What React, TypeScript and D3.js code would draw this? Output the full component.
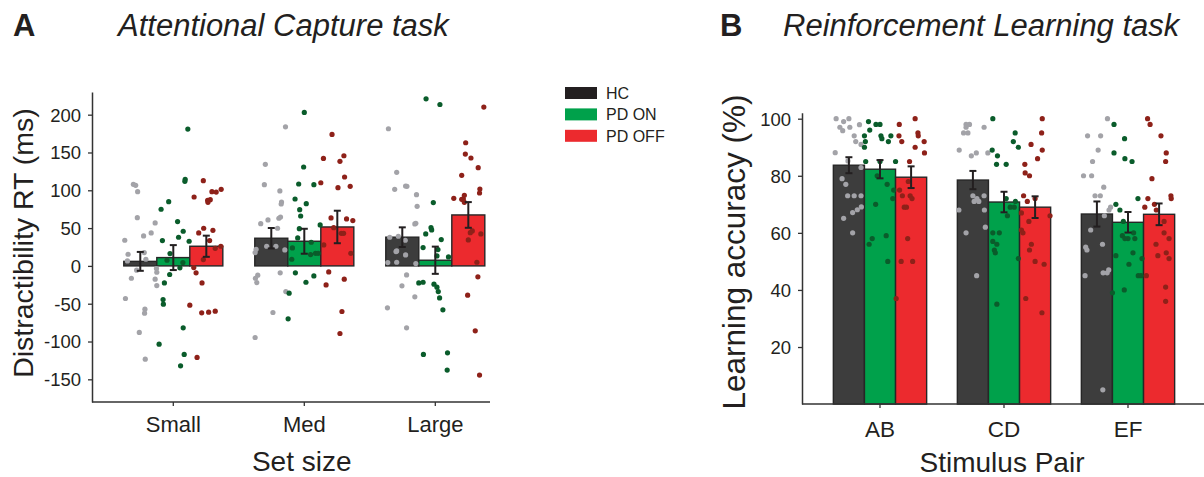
import { useRef, useEffect } from "react";
import * as d3 from "d3";

// [jitter across the bar (fraction of bar width), value]
type Dot = [number, number];

const series = ["HC", "PD ON", "PD OFF"];
const setSizes = ["Small", "Med", "Large"];
const stimulusPairs = ["AB", "CD", "EF"];

// Panel A: Attentional Capture task, distractibility RT (ms)
const acMeanHC = [6, 36.6, 38];
const acMeanON = [11, 32.6, 7.5];
const acMeanOFF = [26, 51.5, 67.4];
const acSemHC = [12.5, 13.5, 13];
const acSemON = [16.5, 16.5, 18];
const acSemOFF = [14, 21.5, 17];
const acTicks = [-150, -100, -50, 0, 50, 100, 150, 200];

const acDotsHC: Dot[][] = [
  [[-0.47, 33.9], [-0.37, 15.4], [-0.39, 6.6], [-0.21, 107.9], [-0.14, 106.6], [-0.08, 98.2], [-0.09, 63.8], [0.1, 39.6], [0.33, 43.6], [0.45, 56.8], [0.12, 17.6], [0.17, 8.8], [-0.11, -5.7], [-0.27, -16.3], [-0.45, -43.1], [0.14, -57.2], [0.13, -62.5], [-0.03, -88], [0.15, -123.3], [0.45, -17.6], [0.49, -3.5], [0.5, -8.4], [0.5, -26]],
  [[0.43, 184], [-0.18, 134.3], [-0.21, 107.4], [0.26, 99.1], [0.31, 84.5], [0.3, 81.9], [0.28, 64.7], [0.23, 63], [-0.1, 60.8], [-0.32, 55.9], [0.19, 49.8], [-0.14, 26], [0.14, 26], [0.41, 21.1], [-0.46, 22], [-0.49, 17.6], [0.27, -9.2], [-0.41, -12.3], [-0.48, -16.3], [-0.44, -22], [0.44, -33.9], [0.05, -61.6], [-0.49, -94.7]],
  [[-0.42, 181.4], [-0.17, 123.7], [-0.23, 101.3], [0.1, 105.7], [0.14, 105.2], [0.43, 94.2], [0.45, 78.8], [0.38, 55.5], [0.41, 56.4], [-0.38, 37.9], [-0.12, 39.2], [0.09, 33.9], [-0.17, 19.8], [-0.19, 18.9], [0.1, 14.5], [-0.44, 4.4], [-0.17, 4.8], [0.41, 3.1], [0.13, -11.9], [-0.01, -26.4], [0.38, -40.9], [-0.45, -55.5], [0.13, -81.9]],
];
const acDotsON: Dot[][] = [
  [[0.44, 181], [0.36, 114.5], [0.35, 111.8], [-0.14, 85], [-0.37, 74.9], [0.13, 58.6], [0.3, 45.8], [0.16, 37.9], [-0.33, 33.5], [0.48, 32.6], [-0.1, 16.3], [-0.19, 7.5], [0.29, 4.4], [0.2, -2.6], [-0.11, -11.4], [-0.27, -22.5], [-0.31, -44.5], [-0.3, -50.6], [0.3, -81.9], [-0.43, -103.5], [0.33, -117.1], [0.22, -132.1]],
  [[0, 203], [-0.02, 130.8], [-0.17, 108.3], [0.29, 107.4], [-0.28, 88.5], [0.06, 82.3], [-0.14, 74.4], [-0.11, 66], [-0.15, 49.3], [0.48, 54.2], [-0.2, 37], [0.21, 31.3], [-0.36, 23.8], [0.19, 15], [0.34, 16.7], [0.42, 16.7], [-0.38, 8.8], [-0.27, -9.2], [0.29, -13.2], [0.05, -21.6], [-0.46, -36.1], [-0.49, -70]],
  [[-0.28, 221], [0.14, 213.5], [-0.06, 83.7], [-0.29, 42.3], [-0.13, 50.6], [-0.11, 47.6], [0.18, 34.8], [-0.37, 24.2], [0.08, 21.6], [0.05, 13.2], [0.4, 11.9], [-0.5, -22.5], [-0.37, -21.6], [-0.04, -24.2], [0.05, -28.2], [0.09, -33.9], [0.13, -42.3], [0.23, -58.1], [-0.36, -117.1], [0.37, -114.9], [0.36, -137.8]],
];
const acDotsOFF: Dot[][] = [
  [[-0.09, 112.7], [-0.37, 91.1], [0.04, 86.7], [0.12, 87.6], [0.05, 84.1], [0.17, 98.2], [0.3, 97.7], [0.45, 101.3], [-0.08, 49.8], [0.2, 47.1], [-0.23, 43.6], [0.1, 33.5], [0.27, 23.3], [0.44, 26], [-0.09, 8.4], [-0.38, -2.2], [-0.31, -9.2], [-0.13, -22.5], [-0.5, -52], [-0.14, -62.1], [0.07, -61.2], [0.27, -59.9], [-0.28, -121.1]],
  [[-0.16, 173.9], [-0.42, 142.2], [0.08, 138.3], [0.2, 145.7], [0.22, 117.6], [0.39, 105.2], [0.02, 103.5], [-0.5, 110], [-0.19, 63.4], [0.28, 62.1], [0.47, 59.9], [-0.11, 50.6], [0.12, 43.1], [0.19, 43.1], [-0.41, 27.7], [0.41, 16.7], [-0.26, -7.9], [0.21, -17.6], [-0.34, -25.1], [0.14, -60.3], [0.08, -89.4]],
  [[0.47, 210], [-0.08, 162.9], [-0.09, 147.9], [0.08, 142.7], [0.3, 129.9], [-0.2, 119.8], [0.35, 101.7], [0.34, 96.4], [-0.44, 89.4], [-0.2, 88.1], [-0.12, 93.3], [-0.12, 84.1], [-0.15, 88.5], [0.12, 46.2], [0.06, 44], [0.38, 42.3], [0, 34.3], [0.26, 4.8], [0.29, -14.5], [-0.02, -38.7], [0.21, -85.9], [0.34, -144.4]],
];

// Panel B: Reinforcement Learning task, learning accuracy (%)
const rlMeanHC = [83.7, 78.5, 66.6];
const rlMeanON = [82.3, 70.8, 63.7];
const rlMeanOFF = [79.5, 69, 66.5];
const rlSemHC = [2.8, 3.2, 4.4];
const rlSemON = [3.2, 3.6, 3.6];
const rlSemOFF = [3.8, 3.8, 3.8];
const rlTicks = [20, 40, 60, 80, 100];

const rlDotsHC: Dot[][] = [
  [[-0.41, 100], [-0.29, 97], [-0.17, 99], [0, 100], [0.03, 97], [-0.2, 95.8], [0.34, 97.9], [0.17, 94], [0.22, 92], [0.39, 91], [-0.44, 88.1], [-0.03, 85.2], [0.39, 82.9], [-0.22, 79], [-0.1, 77], [-0.04, 73], [0.17, 73], [0.39, 73], [0.4, 69.1], [0.27, 68.1], [0.12, 67.1], [-0.17, 65.1], [0.12, 60]],
  [[-0.22, 98], [-0.11, 98], [-0.22, 97], [-0.3, 95], [-0.16, 95], [0.36, 97], [-0.44, 89], [-0.05, 87], [0.11, 88], [0.48, 88], [-0.45, 68], [0, 73], [0.13, 72], [0.04, 71], [0.19, 71], [0.36, 73], [0.37, 68], [-0.22, 60], [0.4, 62], [0.12, 45]],
  [[0.34, 100], [-0.3, 94], [0.12, 94], [0.04, 89], [-0.14, 85], [-0.43, 80], [-0.17, 80], [0.22, 76], [-0.06, 73], [0.11, 73], [0.44, 69], [0.39, 68], [-0.2, 61], [0.24, 66], [-0.36, 55], [-0.32, 54], [0.18, 56], [-0.38, 45], [0.2, 46], [0.33, 46], [0.38, 47], [0.19, 5]],
];
const rlDotsON: Dot[][] = [
  [[-0.37, 99], [-0.13, 98], [0, 98], [-0.33, 96], [-0.5, 94], [0.03, 94], [0.06, 93], [0.35, 94], [-0.47, 92], [0.27, 92], [-0.5, 90], [-0.46, 85], [0, 85], [0.5, 85], [-0.09, 80], [0.23, 77], [0.44, 75], [0.41, 72], [-0.14, 70], [-0.25, 58], [-0.35, 56], [0.2, 59], [0.25, 50]],
  [[-0.36, 100], [-0.38, 89], [-0.21, 87], [-0.24, 84], [0.07, 84], [0.36, 95], [0.3, 92], [0.46, 90], [0.07, 72], [0.37, 71], [0.2, 69], [0.33, 69], [0.11, 66], [-0.36, 60], [-0.15, 60], [-0.36, 57], [-0.23, 56], [-0.31, 54], [-0.28, 53], [0.46, 51], [-0.23, 35]],
  [[-0.45, 98], [-0.45, 88], [-0.11, 93], [-0.1, 86], [0.13, 85], [0.32, 72], [-0.39, 70], [-0.26, 68], [-0.15, 64], [-0.18, 59], [0, 58], [0.18, 60], [0.22, 58], [-0.1, 58], [-0.39, 52], [0.16, 53], [0.03, 49], [0.45, 51], [0.33, 45], [0.42, 45], [-0.5, 39], [-0.12, 40]],
];
const rlDotsOFF: Dot[][] = [
  [[0.13, 100], [-0.38, 98], [-0.39, 94], [-0.3, 92], [0.22, 95], [0.23, 94], [0.42, 92], [0.13, 90], [0.43, 88], [-0.05, 85], [-0.09, 78], [-0.37, 75], [-0.28, 73], [-0.03, 73], [0.03, 72], [-0.22, 69], [-0.15, 69], [-0.11, 58], [-0.32, 50], [0.05, 50], [-0.48, 37]],
  [[0.23, 100], [0.21, 95], [-0.13, 91], [0.23, 89], [0.08, 86], [-0.33, 84], [-0.32, 81], [-0.18, 80], [-0.37, 73], [-0.25, 71], [0, 72], [0.48, 66], [-0.44, 67], [-0.44, 61], [-0.39, 60], [-0.2, 64], [-0.12, 56], [-0.18, 54], [0, 50], [0.29, 49], [-0.3, 37], [0.22, 32]],
  [[-0.37, 100], [-0.29, 98], [0.06, 94], [0.23, 88], [0.21, 85], [-0.23, 79], [0.38, 73], [0.39, 72], [-0.36, 72], [-0.15, 70], [-0.46, 69], [-0.09, 68], [0.16, 64], [0.16, 60], [0.32, 58], [-0.1, 56], [-0.04, 52], [0.23, 53], [0.32, 51], [-0.41, 45], [0.21, 41], [0.21, 36]],
];

const barColors = ["#3d3d3d", "#00a14b", "#ec2a2e"];
const legendColors = ["#231f20", "#00a14b", "#ec2a2e"];
const dotColors = ["#a3a3a8", "#0a5c2b", "#8e2119"];
const ink = "#231f20";
const font = "'Liberation Sans', Arial, Helvetica, sans-serif";

type PanelSpec = {
  categories: string[];
  means: number[][];
  sems: number[][];
  dots: Dot[][][];
  yDomain: [number, number];
  yTicks: number[];
  yRange: [number, number];
  axisX: [number, number];
  bandRange: [number, number];
  padding: number;
  tickPadding: number;
  catOffset: number;
  catSize: number;
  yLabel: string;
  yLabelPos: [number, number];
  yLabelSize: number;
  xLabel: string;
  xLabelPos: [number, number];
};

function drawPanel(
  svg: d3.Selection<SVGSVGElement, unknown, null, undefined>,
  spec: PanelSpec,
) {
  const y = d3.scaleLinear().domain(spec.yDomain).range(spec.yRange);
  const x = d3
    .scaleBand()
    .domain(spec.categories)
    .range(spec.bandRange)
    .paddingInner(spec.padding)
    .paddingOuter(spec.padding / 2);
  const xs = d3.scaleBand().domain(series).range([0, x.bandwidth()]);
  const bw = xs.bandwidth();
  const base = spec.yRange[0];
  const g = svg.append("g");

  // Y axis (plain hyphen for negatives, as in the figure)
  const yAxis = g
    .append("g")
    .attr("transform", `translate(${spec.axisX[0]},0)`)
    .call(
      d3
        .axisLeft(y)
        .tickValues(spec.yTicks)
        .tickFormat((d) => String(d))
        .tickSize(4)
        .tickSizeOuter(0)
        .tickPadding(spec.tickPadding),
    );
  yAxis.attr("font-family", font).attr("font-size", 18.5);
  yAxis.select(".domain").attr("stroke", "#333").attr("stroke-width", 1.5);
  yAxis.selectAll(".tick line").attr("stroke", "#333").attr("stroke-width", 1.3);
  yAxis.selectAll(".tick text").attr("fill", ink).attr("dy", "0.35em");

  // X axis (ticks + labels), baseline drawn separately
  const xAxis = g
    .append("g")
    .attr("transform", `translate(0,${base})`)
    .call(d3.axisBottom(x).tickSize(4).tickSizeOuter(0));
  xAxis.select(".domain").remove();
  xAxis.attr("font-family", font).attr("font-size", spec.catSize);
  xAxis.selectAll(".tick line").attr("stroke", "#333").attr("stroke-width", 1.3);
  xAxis
    .selectAll(".tick text")
    .attr("fill", ink)
    .attr("y", spec.catOffset)
    .attr("dy", null);

  // Bars
  spec.categories.forEach((cat, ci) => {
    series.forEach((s, si) => {
      const m = spec.means[si][ci];
      g.append("rect")
        .attr("x", (x(cat) as number) + (xs(s) as number))
        .attr("y", y(m))
        .attr("width", bw)
        .attr("height", y(0) - y(m))
        .attr("fill", barColors[si])
        .attr("stroke", "#262626")
        .attr("stroke-width", 1.4);
    });
  });

  // Individual participants
  spec.categories.forEach((cat, ci) => {
    series.forEach((s, si) => {
      const cx0 = (x(cat) as number) + (xs(s) as number) + bw / 2;
      g.append("g")
        .selectAll("circle")
        .data(spec.dots[si][ci])
        .join("circle")
        .attr("cx", (d) => cx0 + d[0] * bw)
        .attr("cy", (d) => y(d[1]))
        .attr("r", 2.6)
        .attr("fill", dotColors[si]);
    });
  });

  // Error bars (SEM)
  spec.categories.forEach((cat, ci) => {
    series.forEach((s, si) => {
      const cx = (x(cat) as number) + (xs(s) as number) + bw / 2;
      const m = spec.means[si][ci];
      const e = spec.sems[si][ci];
      const eb = g.append("g").attr("stroke", ink).attr("stroke-width", 2);
      eb.append("line").attr("x1", cx).attr("x2", cx).attr("y1", y(m - e)).attr("y2", y(m + e));
      [m - e, m + e].forEach((v) => {
        eb.append("line")
          .attr("x1", cx - 3.5)
          .attr("x2", cx + 3.5)
          .attr("y1", y(v))
          .attr("y2", y(v));
      });
    });
  });

  // X baseline
  g.append("line")
    .attr("x1", spec.axisX[0])
    .attr("x2", spec.axisX[1])
    .attr("y1", base)
    .attr("y2", base)
    .attr("stroke", "#333")
    .attr("stroke-width", 1.5);

  // Axis titles
  g.append("text")
    .attr("transform", `translate(${spec.yLabelPos[0]},${spec.yLabelPos[1]}) rotate(-90)`)
    .attr("text-anchor", "middle")
    .attr("font-family", font)
    .attr("font-size", spec.yLabelSize)
    .attr("fill", ink)
    .text(spec.yLabel);
  g.append("text")
    .attr("x", spec.xLabelPos[0])
    .attr("y", spec.xLabelPos[1])
    .attr("text-anchor", "middle")
    .attr("font-family", font)
    .attr("font-size", 28)
    .attr("fill", ink)
    .text(spec.xLabel);
}

export default function App() {
  const ref = useRef<SVGSVGElement>(null);

  useEffect(() => {
    if (!ref.current) return;
    const svg = d3.select(ref.current);
    svg.selectAll("*").remove();

    drawPanel(svg, {
      categories: setSizes,
      means: [acMeanHC, acMeanON, acMeanOFF],
      sems: [acSemHC, acSemON, acSemOFF],
      dots: [acDotsHC, acDotsON, acDotsOFF],
      yDomain: [-180, 230],
      yTicks: acTicks,
      yRange: [402, 92],
      axisX: [92, 490],
      bandRange: [107.8, 500.8],
      padding: 0.244,
      tickPadding: 7,
      catOffset: 30,
      catSize: 22,
      yLabel: "Distractibility RT (ms)",
      yLabelPos: [33, 243],
      yLabelSize: 28.5,
      xLabel: "Set size",
      xLabelPos: [301.7, 470.7],
    });

    drawPanel(svg, {
      categories: stimulusPairs,
      means: [rlMeanHC, rlMeanON, rlMeanOFF],
      sems: [rlSemHC, rlSemON, rlSemOFF],
      dots: [rlDotsHC, rlDotsON, rlDotsOFF],
      yDomain: [0, 102.1],
      yTicks: rlTicks,
      yRange: [404.1, 112.7],
      axisX: [802, 1204],
      bandRange: [818, 1190],
      padding: 0.2476,
      tickPadding: 7,
      catOffset: 32.7,
      catSize: 22.5,
      yLabel: "Learning accuracy (%)",
      yLabelPos: [745, 252],
      yLabelSize: 31.5,
      xLabel: "Stimulus Pair",
      xLabelPos: [1002, 471.7],
    });

    // Panel letters and titles
    const titles: [string, number, boolean][] = [
      ["A", 13, false],
      ["Attentional Capture task", 118, true],
      ["B", 720, false],
      ["Reinforcement Learning task", 783, true],
    ];
    titles.forEach(([t, tx, italic]) => {
      svg
        .append("text")
        .attr("x", tx)
        .attr("y", 36)
        .attr("font-family", font)
        .attr("font-size", 31)
        .attr("font-weight", italic ? "normal" : "bold")
        .attr("font-style", italic ? "italic" : "normal")
        .attr("fill", ink)
        .text(t);
    });

    // Legend
    const legend = svg.append("g").attr("transform", "translate(565,87)");
    series.forEach((s, i) => {
      const yOff = i * 21.4;
      legend
        .append("rect")
        .attr("x", 0)
        .attr("y", yOff)
        .attr("width", 32)
        .attr("height", 12)
        .attr("fill", legendColors[i]);
      legend
        .append("text")
        .attr("x", 41)
        .attr("y", yOff + 12)
        .attr("font-family", font)
        .attr("font-size", 16)
        .attr("fill", ink)
        .text(s);
    });
  }, []);

  return (
    <svg
      ref={ref}
      width={1204}
      height={477}
      style={{ position: "absolute", left: 0, top: 0, background: "#fff" }}
    />
  );
}
